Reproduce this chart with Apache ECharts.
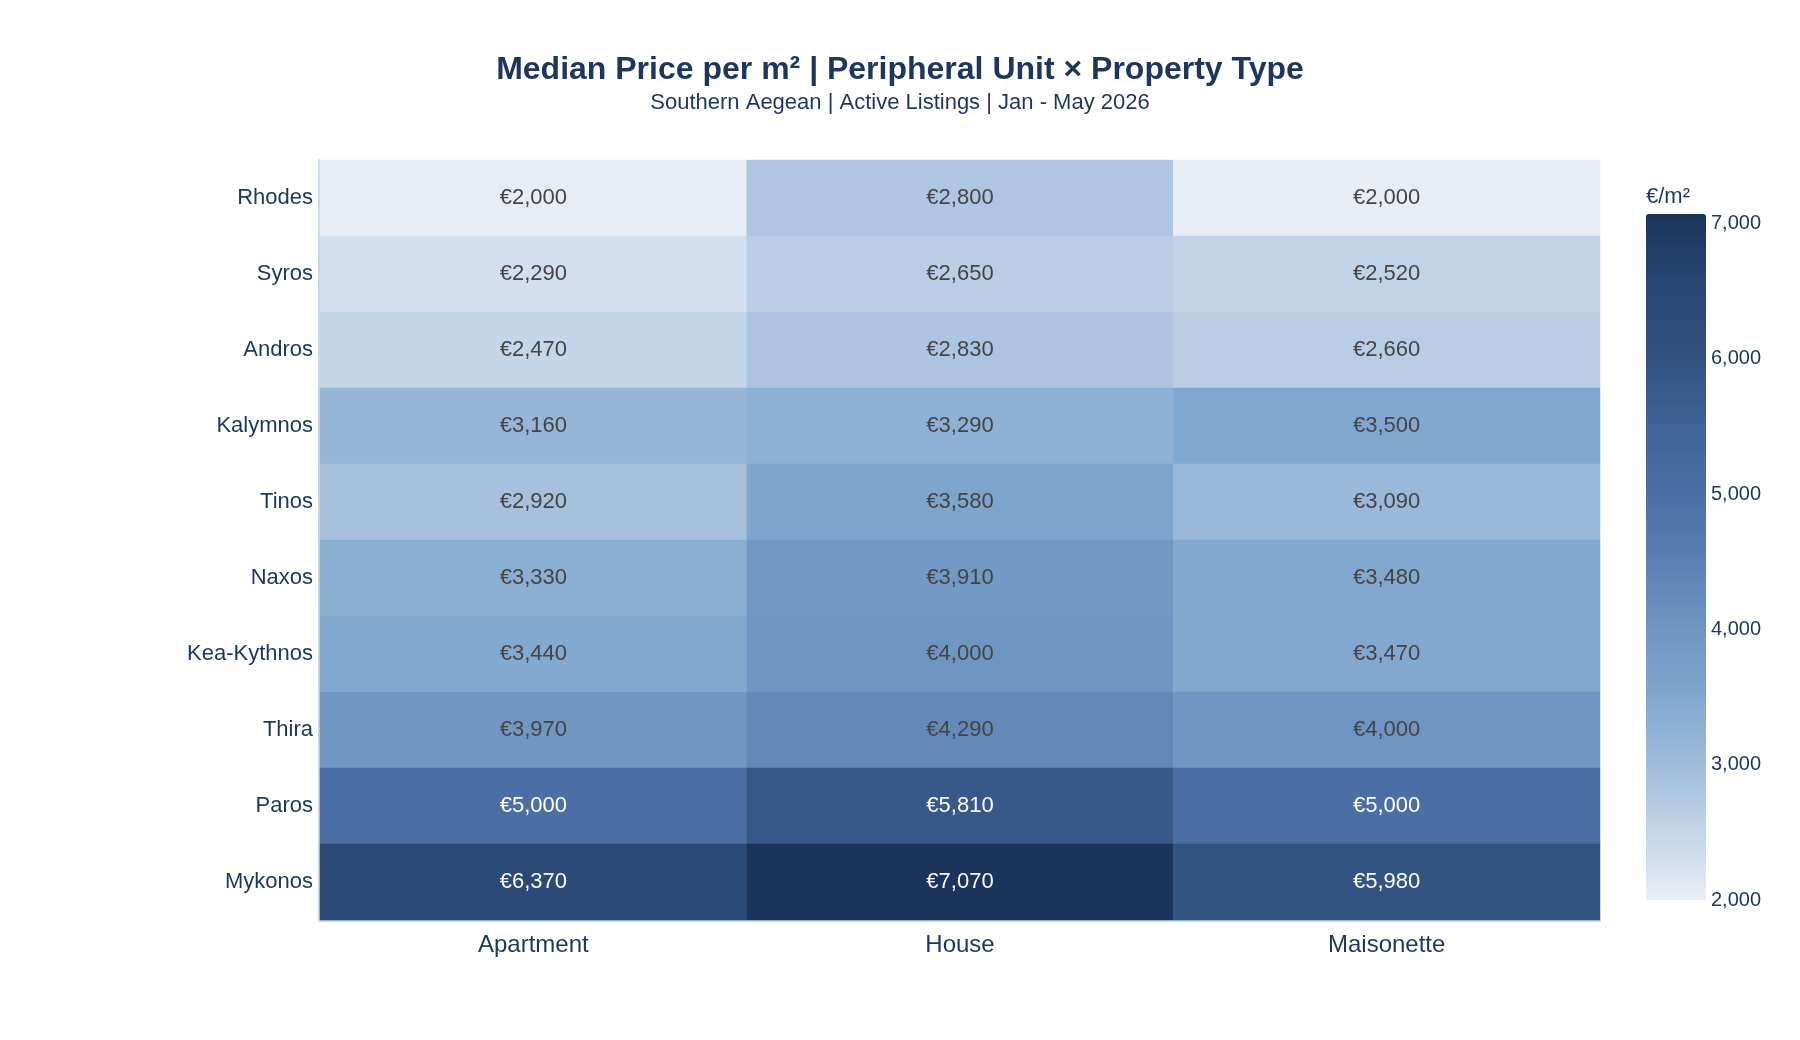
<!DOCTYPE html>
<html>
<head>
<meta charset="utf-8">
<script src="https://cdn.jsdelivr.net/npm/echarts@6/dist/echarts.min.js"></script>
<style>
html,body{margin:0;padding:0;background:#fff;}
#chart{width:1800px;height:1040px;}
</style>
</head>
<body>
<div id="chart"></div>
<script>
// ---- data ----
const units = ['Rhodes','Syros','Andros','Kalymnos','Tinos','Naxos','Kea-Kythnos','Thira','Paros','Mykonos'];
const propertyTypes = ['Apartment','House','Maisonette'];
const apartment  = [2000,2290,2470,3160,2920,3330,3440,3970,5000,6370];
const house      = [2800,2650,2830,3290,3580,3910,4000,4290,5810,7070];
const maisonette = [2000,2520,2660,3500,3090,3480,3470,4000,5000,5980];
const colorbarTicks = [2000,3000,4000,5000,6000,7000];
const colorMin = 2000, colorMax = 7070;

const FONT = '"Liberation Sans", Arial, Helvetica, sans-serif';
const NAVY = '#1e365e';

const columns = [apartment, house, maisonette];
const cells = [];
columns.forEach((col, xi) => {
  col.forEach((v, yi) => {
    cells.push({
      value: [xi, yi, v],
      label: { color: v >= 4500 ? '#ffffff' : '#444444' }
    });
  });
});

const fmt = v => v.toLocaleString('en-US');

const chart = echarts.init(document.getElementById('chart'), null, {renderer: 'canvas'});
chart.setOption({
  backgroundColor: '#ffffff',
  animation: false,
  textStyle: { fontFamily: FONT },
  title: [
    { text: 'Median Price per m² | Peripheral Unit × Property Type', left: 'center', top: 54, padding: 0,
      textStyle: { fontFamily: FONT, fontSize: 32, fontWeight: 'bold', color: NAVY, lineHeight: 33 } },
    { text: 'Southern Aegean | Active Listings | Jan - May 2026', left: 'center', top: 91, padding: 0,
      textStyle: { fontFamily: FONT, fontSize: 22, fontWeight: 'normal', color: NAVY, lineHeight: 23 } },
    { text: '€/m²', left: 1646, top: 185, padding: 0,
      textStyle: { fontFamily: FONT, fontSize: 22, fontWeight: 'normal', color: NAVY, lineHeight: 23 } }
  ],
  grid: [
    { left: 320, top: 160, width: 1280, height: 760, containLabel: false },
    { left: 1646, top: 214, width: 60, height: 686, containLabel: false }
  ],
  xAxis: [
    { type: 'category', gridIndex: 0, data: propertyTypes, position: 'bottom', offset: 1,
      axisLine: { show: true, lineStyle: { color: '#c8d6e8', width: 2 } },
      axisTick: { show: false }, splitLine: { show: false }, splitArea: { show: false },
      axisLabel: { fontFamily: FONT, fontSize: 24, color: NAVY, margin: 12 } },
    { type: 'value', gridIndex: 1, show: false }
  ],
  yAxis: [
    { type: 'category', gridIndex: 0, data: units, inverse: true, offset: 1,
      axisLine: { show: true, lineStyle: { color: '#c8d6e8', width: 2 } },
      axisTick: { show: false }, splitLine: { show: false }, splitArea: { show: false },
      axisLabel: { fontFamily: FONT, fontSize: 22, color: NAVY, margin: 6, padding: [2, 0, 0, 0] } },
    { type: 'value', gridIndex: 1, min: colorMin, max: colorMax, interval: 1000, position: 'right',
      axisLine: { show: false }, axisTick: { show: false }, splitLine: { show: false },
      axisLabel: { fontFamily: FONT, fontSize: 20, color: NAVY, margin: 5, showMaxLabel: false,
        formatter: v => colorbarTicks.indexOf(v) >= 0 ? fmt(v) : '' } }
  ],
  visualMap: {
    type: 'continuous', min: colorMin, max: colorMax, seriesIndex: 0,
    calculable: false, realtime: false, hoverLink: false,
    orient: 'vertical', left: 1646, top: 214, padding: 0,
    itemWidth: 60, itemHeight: 686,
    inRange: { color: ['#e8edf5','#c3d4e8','#9fbbdb','#7fa6ce','#6e94c1','#5a7fb2','#4a6ea4','#3f6194','#31507e','#284674','#1b345b'] }
  },
  series: [{
    type: 'heatmap', xAxisIndex: 0, yAxisIndex: 0,
    data: cells,
    label: { show: true, fontFamily: FONT, fontSize: 22, padding: [2, 0, 0, 0], formatter: p => '€' + fmt(p.value[2]) },
    itemStyle: { borderWidth: 0 },
    emphasis: { disabled: true }
  }]
});
</script>
</body>
</html>
